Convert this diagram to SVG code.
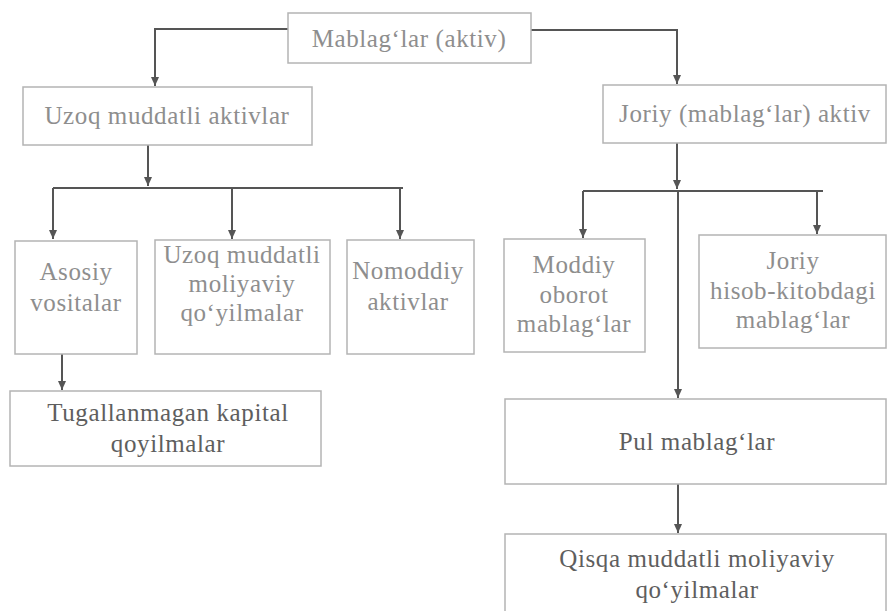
<svg xmlns="http://www.w3.org/2000/svg" width="888" height="611" viewBox="0 0 888 611">
<style>
.box{fill:#fff;stroke:#b4b4b4;stroke-width:1.5}
.t{font-size:25px;letter-spacing:0.6px;fill:#8e8e8e;text-anchor:middle}
.d{fill:#5e5e5e}
.c{fill:none;stroke:#555;stroke-width:2}
</style>
<defs>
<marker id="ah" markerUnits="userSpaceOnUse" markerWidth="12" markerHeight="10" refX="9" refY="4" orient="auto">
<path d="M0,0 L9,4 L0,8 z" fill="#555"/>
</marker>
</defs>
<rect width="888" height="611" fill="#fff"/>
<g id="connectors">
<path class="c" d="M288,29 H155 V86" marker-end="url(#ah)"/>
<path class="c" d="M531,30 H677 V84" marker-end="url(#ah)"/>
<path class="c" d="M148,145 V186" marker-end="url(#ah)"/>
<path class="c" d="M53,188 H403"/>
<path class="c" d="M53,188 V239" marker-end="url(#ah)"/>
<path class="c" d="M232,188 V239" marker-end="url(#ah)"/>
<path class="c" d="M400,188 V239" marker-end="url(#ah)"/>
<path class="c" d="M62,354 V390" marker-end="url(#ah)"/>
<path class="c" d="M677,143 V189" marker-end="url(#ah)"/>
<path class="c" d="M583,191 H823"/>
<path class="c" d="M583,191 V238" marker-end="url(#ah)"/>
<path class="c" d="M817,191 V234" marker-end="url(#ah)"/>
<path class="c" d="M678,191 V398" marker-end="url(#ah)"/>
<path class="c" d="M678,484 V533" marker-end="url(#ah)"/>
</g>
<g font-family="Liberation Serif, Times New Roman, DejaVu Serif, serif">
<g id="mablaglar">
<rect class="box" x="288" y="13" width="243" height="50"/>
<text class="t" x="409" y="47">Mablag‘lar (aktiv)</text>
</g>
<g id="uzoq">
<rect class="box" x="23" y="87" width="289" height="58"/>
<text class="t" x="167" y="124">Uzoq muddatli aktivlar</text>
</g>
<g id="joriy">
<rect class="box" x="603" y="85" width="283" height="58"/>
<text class="t" x="745" y="122">Joriy (mablag‘lar) aktiv</text>
</g>
<g id="asosiy">
<rect class="box" x="15" y="241" width="122" height="113"/>
<text class="t" x="76" y="280">Asosiy</text>
<text class="t" x="76" y="311">vositalar</text>
</g>
<g id="uzoq-moliyaviy">
<rect class="box" x="155" y="240" width="175" height="114"/>
<text class="t" x="242" y="263">Uzoq muddatli</text>
<text class="t" x="242" y="292">moliyaviy</text>
<text class="t" x="242" y="321">qo‘yilmalar</text>
</g>
<g id="nomoddiy">
<rect class="box" x="347" y="240" width="127" height="114"/>
<text class="t" x="408" y="279">Nomoddiy</text>
<text class="t" x="408" y="310">aktivlar</text>
</g>
<g id="tugallanmagan">
<rect class="box" x="10" y="391" width="311" height="75"/>
<text class="t d" x="168" y="421">Tugallanmagan kapital</text>
<text class="t d" x="168" y="452">qoyilmalar</text>
</g>
<g id="moddiy">
<rect class="box" x="504" y="239" width="141" height="113"/>
<text class="t" x="574" y="273">Moddiy</text>
<text class="t" x="574" y="303">oborot</text>
<text class="t" x="574" y="332">mablag‘lar</text>
</g>
<g id="joriy-hisob">
<rect class="box" x="699" y="235" width="187" height="113"/>
<text class="t" x="793" y="269">Joriy</text>
<text class="t" x="793" y="299">hisob-kitobdagi</text>
<text class="t" x="793" y="328">mablag‘lar</text>
</g>
<g id="pul">
<rect class="box" x="505" y="399" width="381" height="85"/>
<text class="t d" x="697" y="450">Pul mablag‘lar</text>
</g>
<g id="qisqa">
<rect class="box" x="505" y="534" width="381" height="90"/>
<text class="t d" x="697" y="567">Qisqa muddatli moliyaviy</text>
<text class="t d" x="697" y="598">qo‘yilmalar</text>
</g>
</g>
</svg>
